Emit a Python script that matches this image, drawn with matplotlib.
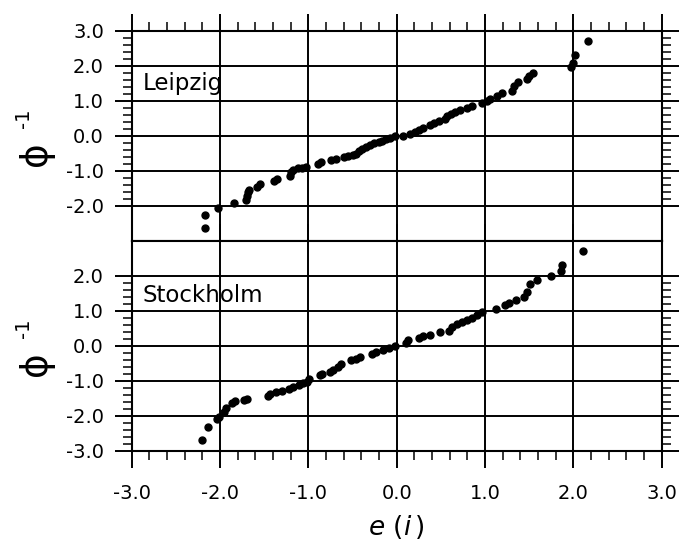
import numpy as np
import matplotlib
matplotlib.use("Agg")
import matplotlib.pyplot as plt
from matplotlib.ticker import FixedLocator, FormatStrFormatter

plt.rcParams['font.family'] = ['DejaVu Sans']
plt.rcParams['axes.unicode_minus'] = False
plt.rcParams['mathtext.fontset'] = 'dejavusans'

# Leipzig: e(i) vs Phi^-1
leipzig_e = [-2.17, -2.17, -2.02, -1.84, -1.71, -1.70, -1.68, -1.67, -1.58, -1.55,
             -1.39, -1.35, -1.21, -1.20, -1.17, -1.12, -1.07, -1.03, -0.89, -0.86,
             -0.74, -0.69, -0.60, -0.55, -0.50, -0.46, -0.43, -0.39, -0.35, -0.30,
             -0.26, -0.20, -0.17, -0.12, -0.08, -0.02, 0.07, 0.15, 0.21, 0.25,
             0.30, 0.38, 0.42, 0.48, 0.55, 0.57, 0.61, 0.66, 0.72, 0.80,
             0.85, 0.97, 1.02, 1.06, 1.14, 1.19, 1.31, 1.33, 1.37, 1.48,
             1.50, 1.54, 1.97, 2.00, 2.02, 2.17]
leipzig_q = [-2.64, -2.27, -2.06, -1.93, -1.84, -1.72, -1.60, -1.54, -1.46, -1.39,
             -1.29, -1.24, -1.16, -1.05, -0.97, -0.92, -0.91, -0.90, -0.80, -0.75,
             -0.69, -0.67, -0.61, -0.59, -0.56, -0.51, -0.45, -0.38, -0.32, -0.27,
             -0.22, -0.19, -0.16, -0.10, -0.06, -0.02, 0.00, 0.05, 0.11, 0.16,
             0.22, 0.30, 0.35, 0.42, 0.49, 0.55, 0.63, 0.67, 0.72, 0.79,
             0.86, 0.94, 1.00, 1.05, 1.14, 1.21, 1.28, 1.42, 1.54, 1.61,
             1.70, 1.80, 1.95, 2.07, 2.30, 2.70]

# Stockholm
stockholm_e = [-2.20, -2.14, -2.03, -2.01, -1.96, -1.93, -1.87, -1.83, -1.73, -1.70,
               -1.46, -1.43, -1.37, -1.30, -1.22, -1.17, -1.11, -1.06, -1.02, -0.99,
               -0.87, -0.85, -0.76, -0.72, -0.67, -0.63, -0.52, -0.46, -0.41, -0.28,
               -0.24, -0.15, -0.09, -0.02, 0.10, 0.13, 0.25, 0.30, 0.38, 0.49,
               0.59, 0.63, 0.68, 0.74, 0.80, 0.85, 0.91, 0.97, 1.12, 1.23,
               1.27, 1.35, 1.44, 1.48, 1.51, 1.59, 1.75, 1.86, 1.87, 2.11]
stockholm_q = [-2.69, -2.31, -2.10, -2.03, -1.89, -1.79, -1.65, -1.58, -1.56, -1.52,
               -1.44, -1.37, -1.32, -1.29, -1.25, -1.18, -1.13, -1.08, -1.04, -0.94,
               -0.85, -0.80, -0.75, -0.69, -0.61, -0.52, -0.42, -0.38, -0.33, -0.24,
               -0.19, -0.12, -0.06, 0.00, 0.09, 0.17, 0.23, 0.28, 0.31, 0.38,
               0.43, 0.53, 0.62, 0.69, 0.73, 0.78, 0.87, 0.97, 1.04, 1.15,
               1.22, 1.31, 1.39, 1.53, 1.75, 1.88, 2.00, 2.12, 2.31, 2.70]

x_ticks = [-3, -2, -1, 0, 1, 2, 3]
top_yticks = [-2, -1, 0, 1, 2, 3]
bottom_yticks = [-3, -2, -1, 0, 1, 2]

fig = plt.figure(figsize=(6.81, 5.42), dpi=100)
ax_top = fig.add_axes([0.1934, 0.5559, 0.7783, 0.3875])
ax_bot = fig.add_axes([0.1934, 0.1685, 0.7783, 0.3875])

panels = [(ax_top, leipzig_e, leipzig_q, top_yticks, "Leipzig", 1.48),
          (ax_bot, stockholm_e, stockholm_q, bottom_yticks, "Stockholm", 1.43)]

for ax, ex, q, yt, name, ypos in panels:
    ax.plot(ex, q, 'o', color='black', markersize=5, zorder=3)
    ax.set_xlim(-3, 3)
    ax.set_ylim(-3, 3)
    ax.set_xticks(x_ticks)
    ax.xaxis.set_minor_locator(FixedLocator(np.arange(-3, 3.01, 0.2)))
    ax.set_yticks(yt)
    ax.yaxis.set_minor_locator(FixedLocator(np.arange(yt[0], yt[-1] + 0.01, 0.2)))
    ax.xaxis.set_major_formatter(FormatStrFormatter('%.1f'))
    ax.yaxis.set_major_formatter(FormatStrFormatter('%.1f'))
    ax.grid(True, which='major', color='black', linewidth=1.4)
    for s in ax.spines.values():
        s.set_linewidth(1.5)
    ax.tick_params(which='major', direction='out', length=12, width=1.4,
                   top=True, right=True, labelsize=14, pad=8)
    ax.tick_params(which='minor', direction='out', length=6.5, width=1.1,
                   top=True, right=True)
    ax.text(-2.88, ypos, name, fontsize=16.5, ha='left', va='center')

ax_top.tick_params(labelbottom=False)
ax_bot.tick_params(which='minor', top=False)
ax_bot.tick_params(axis='x', which='major', pad=12)

# y labels (phi^-1), one per panel
for ax in (ax_top, ax_bot):
    pos = ax.get_position()
    yc = (pos.y0 + pos.y1) / 2
    fig.text(36 / 681, yc - 18 / 542, "\u03d5", rotation=90, fontsize=27,
             ha='center', va='center')
    fig.text(23 / 681, yc + 17 / 542, "-1", rotation=90, fontsize=14,
             ha='center', va='center')

fig.text(0.5 * (0.1934 * 2 + 0.7783), 1 - 527 / 542, r"$e\ (i\,)$",
         fontsize=19, ha='center', va='center')

fig.savefig("out.png", dpi=100)
